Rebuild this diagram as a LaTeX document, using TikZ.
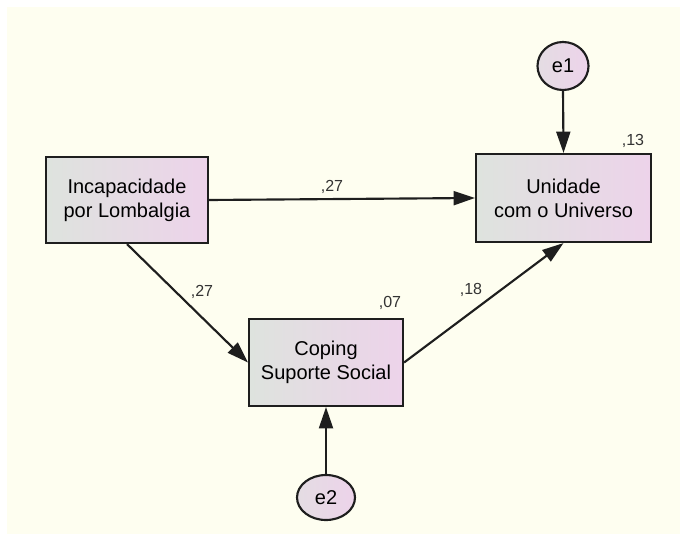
\documentclass[tikz,border=0pt]{standalone}
\usepackage{fontspec}
\setmainfont{Liberation Sans}
\usetikzlibrary{arrows.meta,shapes.geometric}
\definecolor{paper}{HTML}{FEFEF0}
\definecolor{boxleft}{HTML}{DEE3DE}
\definecolor{boxright}{HTML}{EDD3EA}
\definecolor{edge}{HTML}{1E1E1E}
\begin{document}
\begin{tikzpicture}[x=0.75pt,y=-0.75pt,
  varbox/.style={draw=edge,line width=1.6pt,left color=boxleft,right color=boxright,
    align=center,font=\fontsize{15}{18}\selectfont,inner sep=0pt},
  errnode/.style={draw=edge,line width=1.6pt,ellipse,left color=boxleft!60!boxright,right color=boxright,
    font=\fontsize{15}{18}\selectfont,inner sep=0pt},
  regpath/.style={draw=edge,line width=1.6pt,-{Triangle[length=16pt,width=10.5pt]}},
  coef/.style={font=\fontsize{12}{14}\selectfont,text=black!80,inner sep=0pt}]
  % canvas
  \fill[white] (0,0) rectangle (680,534);
  \fill[paper] (7,7) rectangle (680,534);
  \useasboundingbox (0,0) rectangle (680,534);
  % observed variables
  \node[varbox,minimum width=121.5pt,minimum height=64.5pt] (inc) at (127,200)
    {Incapacidade\\por Lombalgia};
  \node[varbox,minimum width=131.25pt,minimum height=66pt] (uni) at (563.5,198)
    {Unidade\\com o Universo};
  \node[varbox,minimum width=115.5pt,minimum height=65.25pt] (cop) at (326,362.5)
    {Coping\\Suporte Social};
  % error terms
  \node[errnode,minimum width=38.25pt,minimum height=36pt] (e1) at (563,66) {e1};
  \node[errnode,minimum width=43.5pt,minimum height=33.75pt] (e2) at (326,497.5) {e2};
  % regression paths
  \draw[regpath] (inc.east) -- (uni.west);
  \draw[regpath] (inc.south) -- (cop.west);
  \draw[regpath] (cop.east) -- (uni.south);
  \draw[regpath] (e1.south) -- (uni.north);
  \draw[regpath] (e2.north) -- (cop.south);
  % standardized estimates and R^2
  \node[coef] (c1) at (332,187) {,27};
  \node[coef] (c2) at (202,292) {,27};
  \node[coef] (c3) at (471,290) {,18};
  \node[coef] (r1) at (390,303) {,07};
  \node[coef] (r2) at (633,141) {,13};
\end{tikzpicture}
\end{document}
